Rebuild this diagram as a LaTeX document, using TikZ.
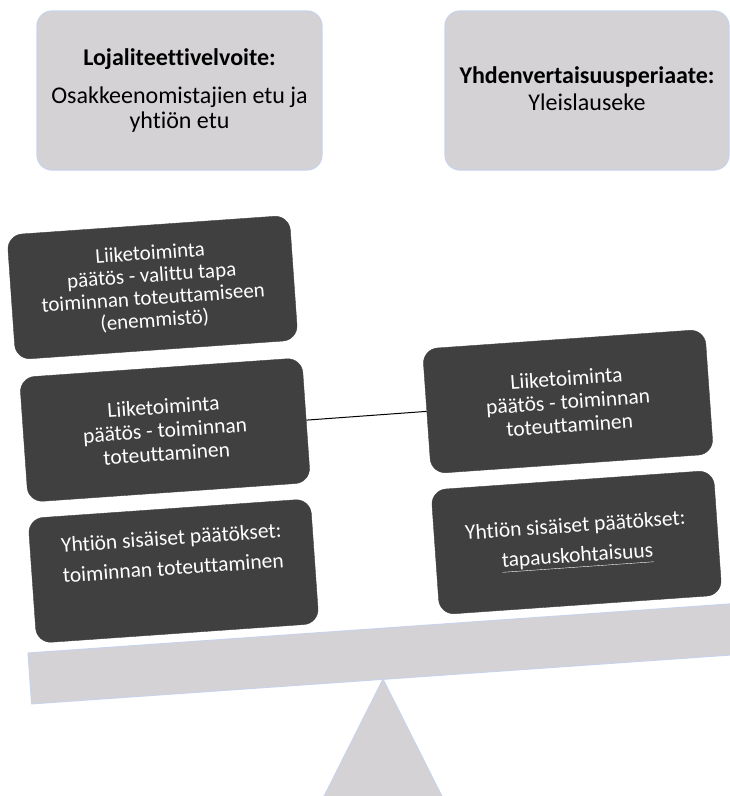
\documentclass[tikz,border=0pt]{standalone}
\usepackage{fontspec}
\setmainfont{Carlito}[Ligatures=CommonOff]
\definecolor{lgray}{RGB}{212,210,213}
\definecolor{lblue}{RGB}{200,210,235}
\definecolor{dgray}{RGB}{64,64,64}
\begin{document}
\begin{tikzpicture}[x=1pt,y=-1pt,
  topbox/.style={draw=lblue, line width=1.2pt, fill=lgray, rounded corners=15pt,
    minimum width=285pt, minimum height=159pt, align=center, text=black,
    font=\fontsize{24}{25}\selectfont, inner sep=0pt},
  darkbox/.style={fill=dgray, draw=dgray, rounded corners=15pt, minimum width=283pt,
    minimum height=125pt, align=center, rotate=4, text=white,
    font=\fontsize{21.5}{23.5}\selectfont, inner sep=0pt},
  plank/.style={draw=lblue, line width=1pt, fill=lgray},
  connector/.style={draw=black, line width=1pt}]
\useasboundingbox (0,0) rectangle (730,796);
\clip (0,0) rectangle (730,796);
% top boxes
\node[topbox] (loj) at (179.5,90.5)
  {\textbf{Lojaliteettivelvoite:}\\[13pt]Osakkeenomistajien etu ja\\yhtiön etu};
\node[topbox, minimum width=284pt] (yhd) at (587,90.5)
  {\textbf{Yhdenvertaisuusperiaate:}\\[2pt]Yleislauseke\vphantom{y}};
% scale
\draw[plank] (383,679) -- (297,850) -- (469,850) -- cycle;
\draw[plank] (28,653) -- (786,600) -- (789.6,650.9) -- (31.6,703.9) -- cycle;
% dark boxes
\node[darkbox, font=\fontsize{21}{22.5}\selectfont] (b1) at (152.5,287.5)
  {Liiketoiminta\\päätös - valittu tapa\\toiminnan toteuttamiseen\\(enemmistö)};
\node[darkbox] (b2) at (165,430)
  {Liiketoiminta\\päätös - toiminnan\\toteuttaminen};
\node[darkbox] (b3) at (173.5,571)
  {Yhtiön sisäiset päätökset:\\[6.5pt]toiminnan toteuttaminen\\[6.5pt]\strut};
\node[darkbox] (r1) at (568,401.5)
  {Liiketoiminta\\päätös - toiminnan\\toteuttaminen};
\node[darkbox] (r2) at (576.5,542.5)
  {Yhtiön sisäiset päätökset:\\[6.5pt]\underline{tapauskohtaisuus}};
\draw[connector] (b2.east) -- (r1.west);
\end{tikzpicture}
\end{document}
